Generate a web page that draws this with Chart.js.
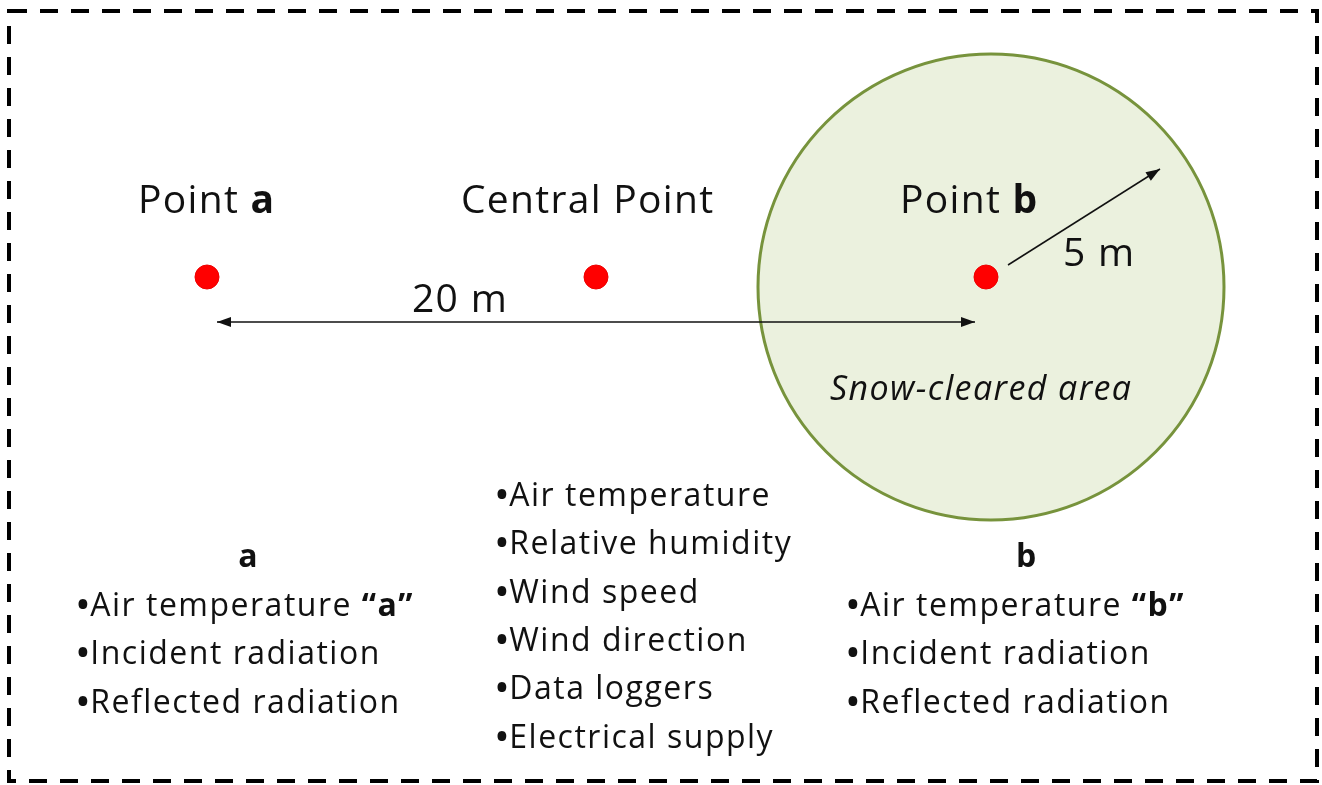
<!DOCTYPE html>
<html>
<head>
<meta charset="utf-8">
<script src="https://cdn.jsdelivr.net/npm/chart.js@4.4.1/dist/chart.umd.min.js"></script>
<style>
  html, body { margin: 0; padding: 0; background: #fff; }
  #wrap { width: 1322px; height: 785px; }
</style>
</head>
<body>
<div id="wrap"><canvas id="myChart" width="1322" height="785"></canvas></div>
<script>
// sampling sites (metres along the transect, drawn on a pixel-like scale)
const siteNames = ['Point a', 'Central Point', 'Point b'];
const siteX = [207, 596, 986];
const siteY = [277, 277, 277];

// snow-cleared area around point b
const clearedCentre = { x: 991, y: 287 };
const clearedLabel = 'Snow-cleared area';

// distances
const distanceLabel = '20 m';
const distanceEnds = [{ x: 217, y: 322 }, { x: 975, y: 322 }];
const radiusLabel = '5 m';
const radiusEnds = [{ x: 1008, y: 265 }, { x: 1160, y: 169 }];

// instruments at each site
const listA = ['Air temperature ', 'Incident radiation', 'Reflected radiation'];
const listCentral = ['Air temperature', 'Relative humidity', 'Wind speed', 'Wind direction', 'Data loggers', 'Electrical supply'];
const listB = ['Air temperature ', 'Incident radiation', 'Reflected radiation'];

const FONT = '"Open Sans", sans-serif';
const INK = '#111';

function runs(ctx, x, y, parts, size, spacing) {
  let cx = x;
  ctx.letterSpacing = (spacing || 0) + 'px';
  parts.forEach(p => {
    ctx.font = (p.italic ? 'italic ' : '') + (p.bold ? 'bold ' : '') + Math.round(size * (p.scale || 1)) + 'px ' + FONT;
    ctx.fillText(p.t, cx, y + (p.dy || 0));
    cx += ctx.measureText(p.t).width + (p.kern || 0);
  });
  ctx.letterSpacing = '0px';
}

// bullet drawn a little larger than the text, like the original slide
const bullet = { t: '\u2022', scale: 1.3, kern: -2, dy: 3 };

function arrowHead(ctx, from, to, len, half) {
  const a = Math.atan2(to.y - from.y, to.x - from.x);
  ctx.beginPath();
  ctx.moveTo(to.x, to.y);
  ctx.lineTo(to.x - len * Math.cos(a) + half * Math.sin(a), to.y - len * Math.sin(a) - half * Math.cos(a));
  ctx.lineTo(to.x - len * Math.cos(a) - half * Math.sin(a), to.y - len * Math.sin(a) + half * Math.cos(a));
  ctx.closePath();
  ctx.fill();
}

const diagram = {
  id: 'diagram',
  beforeDatasetsDraw(chart) {
    const ctx = chart.ctx;
    ctx.save();
    ctx.fillStyle = '#fff';
    ctx.fillRect(0, 0, chart.width, chart.height);
    // dashed frame
    ctx.strokeStyle = '#000';
    ctx.lineWidth = 4;
    ctx.setLineDash([18, 13]);
    ctx.strokeRect(9, 11, 1308, 770);
    ctx.setLineDash([]);
    ctx.restore();
  },
  afterDatasetsDraw(chart) {
    const ctx = chart.ctx;
    const xs = chart.scales.x, ys = chart.scales.y;
    const px = p => ({ x: xs.getPixelForValue(p.x), y: ys.getPixelForValue(p.y) });
    ctx.save();
    ctx.fillStyle = INK;
    // arrow heads
    arrowHead(ctx, px(distanceEnds[1]), px(distanceEnds[0]), 14, 5);
    arrowHead(ctx, px(distanceEnds[0]), px(distanceEnds[1]), 14, 5);
    arrowHead(ctx, px(radiusEnds[0]), px(radiusEnds[1]), 14, 5);

    ctx.textBaseline = 'alphabetic';
    ctx.textAlign = 'left';
    // site titles
    runs(ctx, 138, 213, [{ t: 'Point ' }, { t: 'a', bold: true }], 39, 1.3);
    runs(ctx, 461, 213, [{ t: siteNames[1] }], 39, 1.3);
    runs(ctx, 900, 213, [{ t: 'Point ' }, { t: 'b', bold: true }], 39, 1.3);
    // distances
    runs(ctx, 412, 312, [{ t: distanceLabel }], 39, 1.3);
    runs(ctx, 1063, 266, [{ t: radiusLabel }], 39, 1.3);
    runs(ctx, 830, 400, [{ t: clearedLabel, italic: true }], 34, 1.4);

    // instrument lists
    const size = 32, ls = 1.5, step = 48.3;
    ctx.textAlign = 'center';
    ctx.font = 'bold ' + size + 'px ' + FONT;
    ctx.fillText('a', 248, 567);
    ctx.fillText('b', 1026, 567);
    ctx.textAlign = 'left';
    listA.forEach((s, i) => {
      const parts = [bullet, { t: s }];
      if (i === 0) parts.push({ t: '\u201ca\u201d', bold: true });
      runs(ctx, 75, 616 + i * step, parts, size, ls);
    });
    listCentral.forEach((s, i) => {
      runs(ctx, 494, 506 + i * step, [bullet, { t: s }], size, ls);
    });
    listB.forEach((s, i) => {
      const parts = [bullet, { t: s }];
      if (i === 0) parts.push({ t: '\u201cb\u201d', bold: true });
      runs(ctx, 845, 616 + i * step, parts, size, ls);
    });
    ctx.restore();
  }
};

new Chart(document.getElementById('myChart').getContext('2d'), {
  type: 'scatter',
  data: {
    datasets: [
      {
        label: 'Snow-cleared area',
        data: [clearedCentre],
        order: 3,
        clip: false,
        pointRadius: 233,
        pointHoverRadius: 233,
        backgroundColor: '#ebf1de',
        borderColor: '#77933c',
        pointBorderWidth: 3
      },
      {
        label: 'Distance',
        data: distanceEnds,
        order: 2,
        clip: false,
        showLine: true,
        borderColor: INK,
        borderWidth: 1.5,
        pointRadius: 0
      },
      {
        label: 'Radius',
        data: radiusEnds,
        order: 2,
        clip: false,
        showLine: true,
        borderColor: INK,
        borderWidth: 1.5,
        pointRadius: 0
      },
      {
        label: 'Sites',
        data: siteX.map((x, i) => ({ x: x, y: siteY[i] })),
        order: 1,
        clip: false,
        pointRadius: 12,
        pointHoverRadius: 12,
        backgroundColor: '#f00',
        borderColor: '#e00',
        pointBorderWidth: 1
      }
    ]
  },
  options: {
    responsive: false,
    animation: false,
    events: [],
    layout: { padding: 0, autoPadding: false },
    plugins: { legend: { display: false }, tooltip: { enabled: false } },
    scales: {
      x: { type: 'linear', min: 0, max: 1322, display: false },
      y: { type: 'linear', min: 0, max: 785, reverse: true, display: false }
    }
  },
  plugins: [diagram]
});
</script>
</body>
</html>
